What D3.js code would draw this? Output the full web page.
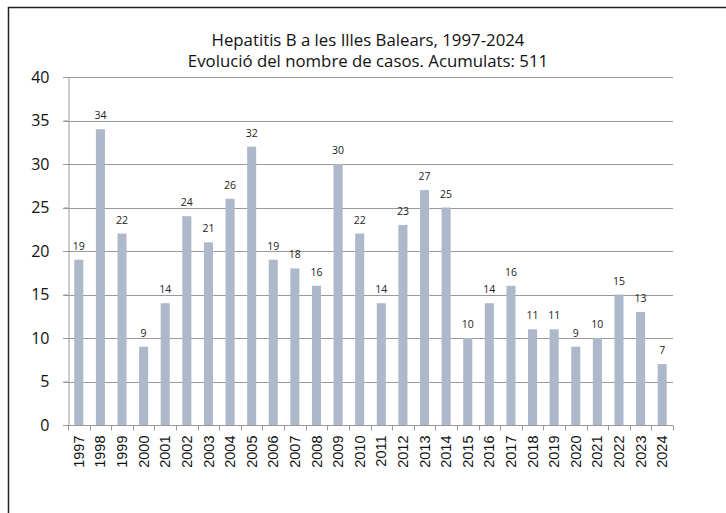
<!DOCTYPE html>
<html lang="ca">
<head>
    <meta charset="utf-8">
    <title>Hepatitis B a les Illes Balears</title>
    <script src="https://d3js.org/d3.v7.min.js"></script>
    <style>
        body { margin: 0; background: #fff; }
    </style>
</head>
<body>
    <script>
        // dades del gràfic
        var years = ["1997", "1998", "1999", "2000", "2001", "2002", "2003", "2004", "2005", "2006",
                     "2007", "2008", "2009", "2010", "2011", "2012", "2013", "2014", "2015", "2016",
                     "2017", "2018", "2019", "2020", "2021", "2022", "2023", "2024"];
        var cases = [19, 34, 22, 9, 14, 24, 21, 26, 32, 19,
                     18, 16, 30, 22, 14, 23, 27, 25, 10, 14,
                     16, 11, 11, 9, 10, 15, 13, 7];
        var yTicks = [0, 5, 10, 15, 20, 25, 30, 35, 40];
        var titleLines = ["Hepatitis B a les Illes Balears, 1997-2024",
                          "Evolució del nombre de casos. Acumulats: 511"];

        var width = 726,
            height = 513;

        var svg = d3.select("body").append("svg")
            .attr("width", width)
            .attr("height", height);

        // marc exterior (retallat a la dreta i a baix)
        svg.append("path")
            .attr("d", "M8.5," + height + " V7.5 H" + width)
            .attr("fill", "none")
            .attr("stroke", "#222")
            .attr("stroke-width", 1.5);

        var x = d3.scaleBand()
            .domain(years)
            .range([68, 673])
            .paddingInner(0.58)
            .paddingOuter(0.29);

        var y = d3.scaleLinear()
            .domain([0, 40])
            .range([425, 77]);

        // títol
        svg.selectAll(".title")
            .data(titleLines)
            .enter()
            .append("text")
            .attr("class", "title")
            .attr("x", 368)
            .attr("y", function(d, i) { return 46 + i * 21; })
            .attr("text-anchor", "middle")
            .style("font-family", "'Open Sans', sans-serif")
            .style("font-size", "16.8px")
            .style("fill", "#111")
            .text(function(d) { return d; });

        // línies de la graella
        svg.append("g")
            .selectAll("line")
            .data(yTicks.filter(function(d) { return d > 0; }))
            .enter()
            .append("line")
            .attr("x1", 63)
            .attr("x2", 673)
            .attr("y1", function(d) { return Math.round(y(d)) + 0.5; })
            .attr("y2", function(d) { return Math.round(y(d)) + 0.5; })
            .attr("stroke", "#9a9a9a")
            .attr("stroke-width", 1);

        // eix Y
        var yAxis = svg.append("g")
            .attr("transform", "translate(68.5,0)")
            .call(d3.axisLeft(y).tickValues(yTicks).tickSize(5).tickPadding(14));
        yAxis.select(".domain").attr("stroke", "#999");
        yAxis.selectAll(".tick line").attr("stroke", "#999");
        yAxis.selectAll("text")
            .style("font-family", "'Open Sans', sans-serif")
            .style("font-size", "16px")
            .style("fill", "#111");

        // barres
        svg.append("g")
            .selectAll("rect")
            .data(cases)
            .enter()
            .append("rect")
            .attr("x", function(d, i) { return x(years[i]); })
            .attr("y", function(d) { return y(d); })
            .attr("width", x.bandwidth())
            .attr("height", function(d) { return y(0) - y(d); })
            .attr("fill", "#adb9cb");

        // etiquetes de valor
        svg.append("g")
            .selectAll("text")
            .data(cases)
            .enter()
            .append("text")
            .attr("x", function(d, i) { return x(years[i]) + x.bandwidth() / 2; })
            .attr("y", function(d) { return y(d) - 10; })
            .attr("text-anchor", "middle")
            .style("font-family", "'Open Sans', sans-serif")
            .style("font-size", "10.5px")
            .style("fill", "#222")
            .text(function(d) { return d; });

        // eix X
        var xAxis = svg.append("g")
            .attr("transform", "translate(0," + (y(0) + 0.5) + ")")
            .call(d3.axisBottom(x).tickSize(0).tickPadding(0));
        xAxis.select(".domain").remove();
        xAxis.append("line")
            .attr("x1", 63).attr("x2", 673)
            .attr("stroke", "#999");
        // separadors de categoria
        xAxis.selectAll(".sep")
            .data(years.concat(["end"]))
            .enter()
            .append("line")
            .attr("class", "sep")
            .attr("x1", function(d, i) { return Math.round(68 + i * x.step()) + 0.5; })
            .attr("x2", function(d, i) { return Math.round(68 + i * x.step()) + 0.5; })
            .attr("y1", 0).attr("y2", 5)
            .attr("stroke", "#999");
        xAxis.selectAll(".tick text")
            .attr("transform", "rotate(-90)")
            .attr("x", -10)
            .attr("y", 0)
            .attr("dy", "0.35em")
            .style("text-anchor", "end")
            .style("font-family", "'Liberation Sans', Arial, sans-serif")
            .style("font-size", "14.5px")
            .style("fill", "#111");
    </script>
</body>
</html>
